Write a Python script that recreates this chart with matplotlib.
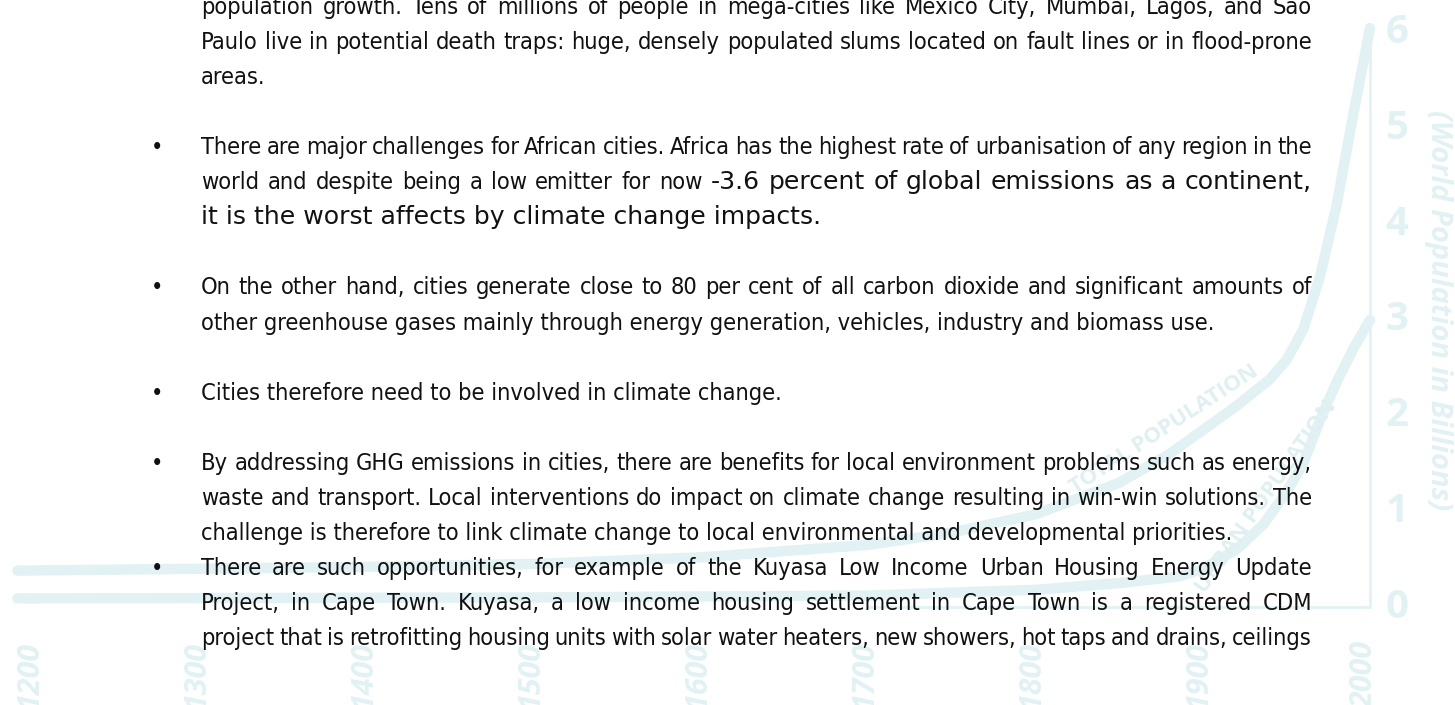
import os
import matplotlib
matplotlib.use('Agg')
import matplotlib.pyplot as plt
from matplotlib import font_manager
from matplotlib.font_manager import FontProperties

W, H = 1455, 705

# Faint background chart: world population in billions
total_years = [1190, 1300, 1400, 1500, 1600, 1700, 1750, 1800, 1850, 1880,
               1900, 1920, 1940, 1950, 1960, 1970, 1980, 1990, 2000]
total_pop = [0.38, 0.40, 0.42, 0.45, 0.52, 0.65, 0.78, 0.97, 1.30, 1.60,
             1.85, 2.10, 2.38, 2.58, 2.90, 3.45, 4.20, 5.15, 6.05]
urban_years = [1190, 1500, 1700, 1800, 1850, 1886, 1900, 1920, 1936, 1950,
               1960, 1970, 1980, 1990, 2000]
urban_pop = [0.09, 0.10, 0.12, 0.18, 0.25, 0.32, 0.40, 0.60, 0.86, 1.20,
             1.50, 1.95, 2.35, 2.70, 3.00]
year_ticks = [1200, 1300, 1400, 1500, 1600, 1700, 1800, 1900, 2000]
pop_ticks = [0, 1, 2, 3, 4, 5, 6]

# Page text: (line slot, bullet, justified, text); text after '|' uses the second font
page_lines = [
    (0, False, True, "population growth.  Tens of millions of people in mega-cities like Mexico City, Mumbai, Lagos, and Sao"),
    (1, False, True, "Paulo live in potential death traps: huge, densely populated slums located on fault lines or in flood-prone"),
    (2, False, False, "areas."),
    (4, True, True, "There are major challenges for African cities. Africa has the highest rate of urbanisation of any region in the"),
    (5, False, True, "world and despite being a low emitter for now|-3.6 percent of global emissions as a continent,"),
    (6, False, False, "|it is the worst affects by climate change impacts."),
    (8, True, True, "On the other hand, cities generate close to 80 per cent of all carbon dioxide and significant amounts of"),
    (9, False, False, "other greenhouse gases mainly through energy generation, vehicles, industry and biomass use."),
    (11, True, False, "Cities therefore need to be involved in climate change."),
    (13, True, True, "By addressing GHG emissions in cities, there are benefits for local environment problems such as energy,"),
    (14, False, True, "waste and transport. Local interventions do impact on climate change resulting in win-win solutions. The"),
    (15, False, False, "challenge is therefore to link climate change to local environmental and developmental priorities."),
    (16, True, True, "There are such opportunities, for example of the Kuyasa Low Income Urban Housing Energy Update"),
    (17, False, True, "Project, in Cape Town.  Kuyasa, a low income housing settlement in Cape Town is a registered CDM"),
    (18, False, True, "project that is retrofitting housing units with solar water heaters, new showers, hot taps and drains, ceilings"),
]


def find_font(files):
    have = {os.path.basename(f.fname).lower(): f.fname
            for f in font_manager.fontManager.ttflist}
    for name in files:
        if name.lower() in have:
            return have[name.lower()]
    return None


# narrow body face (Arial Narrow look-alike) if one is installed
narrow = find_font(['LiberationSansNarrow-Regular.ttf', 'NotoSans-Condensed.ttf',
                    'DejaVuSansCondensed.ttf', 'NotoSans-SemiCondensed.ttf'])
if narrow:
    BODY_FP = FontProperties(fname=narrow)
else:
    BODY_FP = FontProperties(family='Liberation Sans')
ALT_FP = FontProperties(family='DejaVu Sans')
INK = '#111111'

PALE = '#e2f2f4'
LABEL = '#dfeff2'

fig = plt.figure(figsize=(W / 100, H / 100), dpi=100)
fig.patch.set_facecolor('white')
renderer = fig.canvas.get_renderer()


def text_width(s, fp, size=None):
    fp = fp.copy()
    if size:
        fp.set_size(size)
    t = fig.text(0, 0, s, fontproperties=fp)
    w = t.get_window_extent(renderer).width
    t.remove()
    return w


# body size so the unjustified lines end where they do on the page
BODY_SIZE = 20 * 1014 / text_width(page_lines[7][3], BODY_FP, 20)
BODY_FP.set_size(BODY_SIZE)
ALT_FP.set_size(BODY_SIZE * 1.07)

# chart axes covers the whole page
ax = fig.add_axes([0, 0, 1, 1])
ax.set_xlim(1179.6, 2050.9)
ax.set_ylim(-1.024, 6.343)
ax.axis('off')

ax.plot([1700, 2000], [0, 0], color=PALE, lw=2, solid_capstyle='round')
ax.plot([2000, 2000], [0, 5.9], color=PALE, lw=2, solid_capstyle='round')
ax.plot(total_years, total_pop, color=PALE, lw=7.5, solid_capstyle='round')
ax.plot(urban_years, urban_pop, color=PALE, lw=7.5, solid_capstyle='round')

for v in pop_ticks:
    ax.text(2016, v, str(v), ha='center', va='center', fontsize=29,
            fontweight='bold', family='Open Sans', color=PALE)
for yr in year_ticks:
    ax.text(yr - 3, -0.36, str(yr), ha='center', va='top', rotation=90,
            fontsize=22, fontweight='bold', fontstyle='italic',
            family='Open Sans', color=PALE)
ax.text(2041, 3.1, '(World Population in Billions)', rotation=-90,
        ha='center', va='center', fontsize=21, fontweight='bold',
        fontstyle='italic', family='Open Sans', color=PALE)
ax.text(1877, 1.85, 'TOTAL POPULATION', rotation=33, ha='center', va='center',
        fontsize=16, fontweight='bold', family='Open Sans', color=LABEL)
ax.text(1938, 1.15, 'URBAN POPULATION', rotation=55, ha='center', va='center',
        fontsize=16, fontweight='bold', family='Open Sans', color=LABEL)

# page text, justified word by word
LEFT, RIGHT, BULLET_X = 201, 1312, 157
TOP, STEP, BASE = 4, 35.06, 10


def fx(x):
    return x / W


def fy(y):
    return 1 - y / H


for slot, bullet, justify, text in page_lines:
    yb = TOP + STEP * slot + BASE
    body, _, alt = text.partition('|')
    fp = ALT_FP if alt and not body else BODY_FP
    if bullet:
        fig.text(fx(BULLET_X), fy(yb), '\u2022', ha='center', va='baseline',
                 fontproperties=BODY_FP, color=INK)
    if not justify:
        fig.text(fx(LEFT), fy(yb), alt if alt else body, ha='left',
                 va='baseline', fontproperties=fp, color=INK)
        continue
    words = [(w, BODY_FP) for w in body.split()] + \
            [(w, ALT_FP) for w in alt.split()]
    widths = [text_width(w, p) for w, p in words]
    gap = (RIGHT - LEFT - sum(widths)) / (len(words) - 1)
    x = LEFT
    for (w, p), wd in zip(words, widths):
        fig.text(fx(x), fy(yb), w, ha='left', va='baseline',
                 fontproperties=p, color=INK)
        x += wd + gap

fig.savefig('out.png', dpi=100)
